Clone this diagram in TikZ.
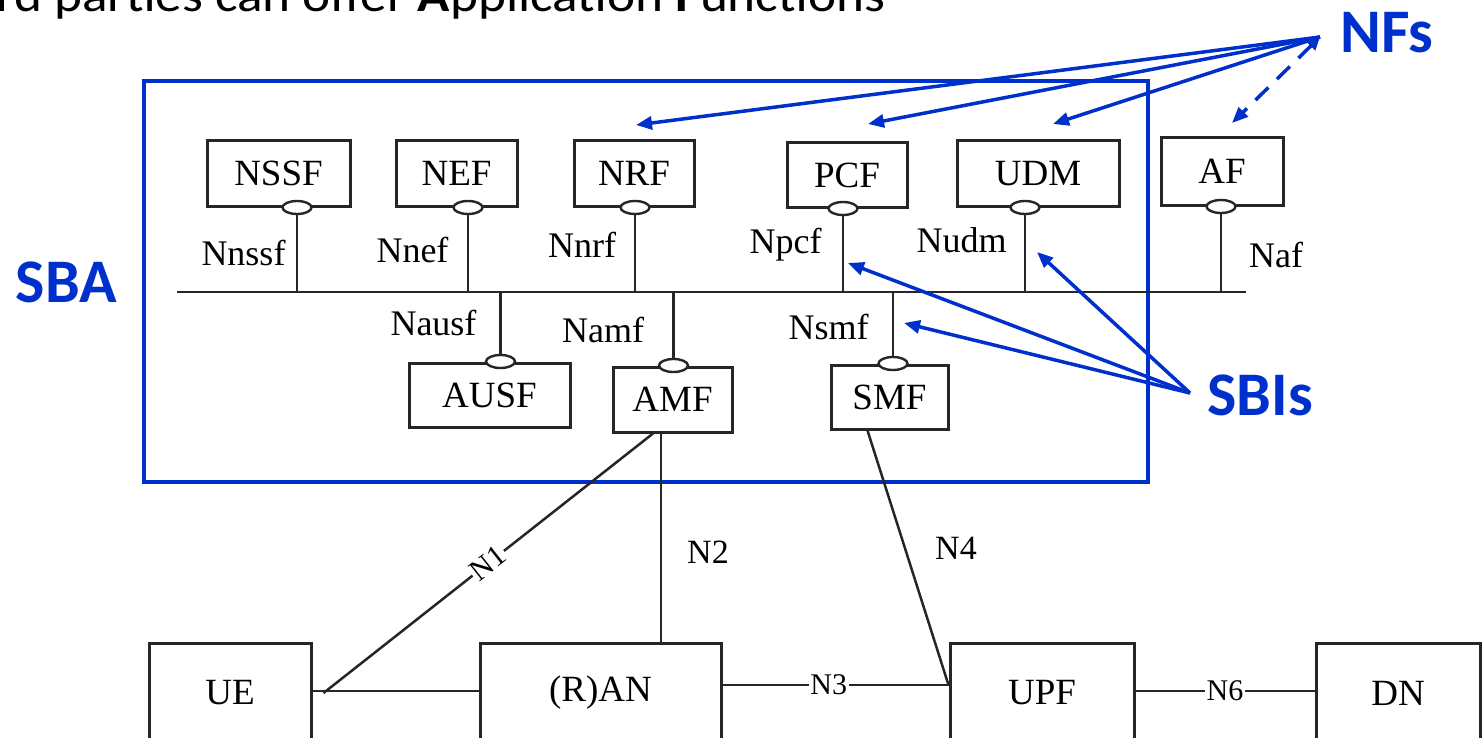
\documentclass[tikz,border=0pt]{standalone}
\usepackage{fontspec}
\usepackage{graphicx}
\setmainfont{Liberation Serif}
\newfontfamily\calibfont{Carlito}
\usetikzlibrary{shapes.geometric,arrows.meta}
\definecolor{sbablue}{RGB}{0,48,204}
\colorlet{ink}{black!85}

\begin{document}
\begin{tikzpicture}[x=1pt,y=-1pt,
  wire/.style={draw=ink, line width=2.8pt},
  nfbox/.style={draw=ink, line width=3pt, fill=white, inner sep=0pt,
    minimum height=65pt, font=\fontsize{37}{41}\selectfont},
  port/.style={ellipse, draw=ink, fill=white, line width=2.4pt,
    minimum width=29pt, minimum height=13pt, inner sep=0pt},
  iflabel/.style={font=\fontsize{36}{40}\selectfont, inner sep=0pt, anchor=base},
  reflabel/.style={font=\fontsize{30}{34}\selectfont, inner sep=1.5pt, fill=white},
  tag/.style={text=sbablue, font=\calibfont\bfseries\fontsize{62}{70}\selectfont, inner sep=0pt},
  pointer/.style={draw=sbablue, line width=3.5pt, -{Triangle[length=16pt,width=13pt]}},
]
\useasboundingbox (0,0) rectangle (1482,738);

% heading line, partly cut at the top edge
\node[anchor=base west, inner sep=0pt, font=\calibfont\fontsize{48}{56}\selectfont]
  (title) at (-4,12) {\scalebox{1.11}[1]{rd parties can offer \textbf{A}pplication \textbf{F}unctions}};

% service based architecture frame
\draw[sbablue, line width=3.5pt] (144,81) rectangle (1148,482);

% network functions above the bus
\node[nfbox, minimum width=143pt] (NSSF) at (278.5,173.5) {NSSF};
\node[nfbox, minimum width=121pt] (NEF)  at (456.5,173.5) {NEF};
\node[nfbox, minimum width=120pt] (NRF)  at (634,173.5)   {NRF};
\node[nfbox, minimum width=120pt, minimum height=64pt] (PCF) at (847,175) {PCF};
\node[nfbox, minimum width=162pt] (UDM)  at (1038,173.5)  {UDM};
\node[nfbox, minimum width=122pt, minimum height=67pt] (AF) at (1222,171.5) {AF};

% network functions below the bus
\node[nfbox, minimum width=161pt, minimum height=64pt] (AUSF) at (489.5,395) {AUSF};
\node[nfbox, minimum width=119pt, minimum height=65pt] (AMF)  at (672.5,399.5) {AMF};
\node[nfbox, minimum width=117pt, minimum height=64pt] (SMF)  at (889.5,397) {SMF};

% service interface ports
\node[port] (pNSSF) at ([xshift=18.5pt]NSSF.south) {};
\node[port] (pNEF)  at ([xshift=11.5pt]NEF.south) {};
\node[port] (pNRF)  at ([xshift=1pt]NRF.south) {};
\node[port] (pPCF)  at ([xshift=-4pt]PCF.south) {};
\node[port] (pUDM)  at ([xshift=-13pt]UDM.south) {};
\node[port] (pAF)   at ([xshift=-1pt]AF.south) {};
\node[port] (pAUSF) at ([xshift=11pt]AUSF.north) {};
\node[port] (pAMF)  at ([xshift=1pt]AMF.north) {};
\node[port] (pSMF)  at ([xshift=3.5pt]SMF.north) {};

% the bus and its stems
\coordinate (busW) at (177,292);
\coordinate (busE) at (1246,292);
\draw[wire] (busW) -- (busE);
\foreach \p in {pNSSF,pNEF,pNRF,pPCF,pUDM,pAF}
  \draw[wire] (\p.south) -- (\p.south |- busW);
\foreach \p in {pAUSF,pAMF,pSMF}
  \draw[wire] (\p.north) -- (\p.north |- busW);

% interface names
\node[iflabel] (lNnssf) at (243.5,265) {Nnssf};
\node[iflabel] (lNnef)  at (412.5,262) {Nnef};
\node[iflabel] (lNnrf)  at (582,257)   {Nnrf};
\node[iflabel] (lNpcf)  at (785.5,253) {Npcf};
\node[iflabel] (lNudm)  at (961.5,252) {Nudm};
\node[iflabel] (lNaf)   at (1276,267)  {Naf};
\node[iflabel] (lNausf) at (433.5,335) {Nausf};
\node[iflabel] (lNamf)  at (603,342)   {Namf};
\node[iflabel] (lNsmf)  at (828.5,339) {Nsmf};

% user plane and access nodes
\node[nfbox, minimum width=162pt, minimum height=100pt] (UE)  at (230,693)   {UE};
\node[nfbox, minimum width=241pt, minimum height=100pt] (RAN) at (600.5,693) {(R)AN};
\node[nfbox, minimum width=184pt, minimum height=100pt] (UPF) at (1042,693)  {UPF};
\node[nfbox, minimum width=164pt, minimum height=100pt] (DN)  at (1398,693)  {DN};

% reference points
\coordinate (n1foot) at ([xshift=11pt]UE.east);
\coordinate (n1top)  at ([xshift=-19.5pt]AMF.south);
\coordinate (n2top)  at ([xshift=-11.5pt]AMF.south);
\coordinate (n4top)  at ([xshift=-22pt]SMF.south);
\coordinate (upfIn)  at ([yshift=8pt]UPF.west);

\draw[wire] ([yshift=2pt]UE.east) -- ([yshift=2pt]RAN.west);
\draw[wire, line width=2.5pt] (n1foot) -- node[sloped, reflabel] (lN1) {N1} (n1top);
\draw[wire, line width=2.5pt] (n2top) -- (n2top |- RAN.north);
\node[font=\fontsize{34}{38}\selectfont, inner sep=0pt] (lN2) at (708,552) {N2};
\draw[wire, line width=2.5pt] (n4top) -- (upfIn);
\node[font=\fontsize{34}{38}\selectfont, inner sep=0pt] (lN4) at (956,548) {N4};
\draw[wire] (upfIn -| RAN.east) -- node[reflabel, pos=0.47] (lN3) {N3} (upfIn);
\draw[wire] ([yshift=2pt]UPF.east) -- node[reflabel] (lN6) {N6} ([yshift=2pt]DN.west);

% callouts
\node[tag] (SBA)  at (66.5,282.5) {SBA};
\node[tag] (NFs)  at (1387,33)    {NFs};
\node[tag] (SBIs) at (1260,395)   {SBIs};

\coordinate (nfhub)  at (1320,37);
\coordinate (tNRF)   at (636,125);
\coordinate (tPCF)   at (868,124);
\coordinate (tUDM)   at (1053,124);
\coordinate (tAF)    at (1232,123);
\draw[pointer] (nfhub) -- (tNRF);
\draw[pointer] (nfhub) -- (tPCF);
\draw[pointer] (nfhub) -- (tUDM);
\draw[draw=sbablue, line width=3.5pt, dash pattern=on 18pt off 12pt,
  {Triangle[length=13pt,width=12pt]}-{Triangle[length=16pt,width=13pt]}] (nfhub) -- (tAF);

\coordinate (sbihub) at (1190,393);
\coordinate (tNpcf)  at (848,263);
\coordinate (tNudm)  at (1037,252);
\coordinate (tNsmf)  at (904,323);
\draw[pointer] (sbihub) -- (tNpcf);
\draw[pointer] (sbihub) -- (tNudm);
\draw[pointer] (sbihub) -- (tNsmf);
\end{tikzpicture}
\end{document}
